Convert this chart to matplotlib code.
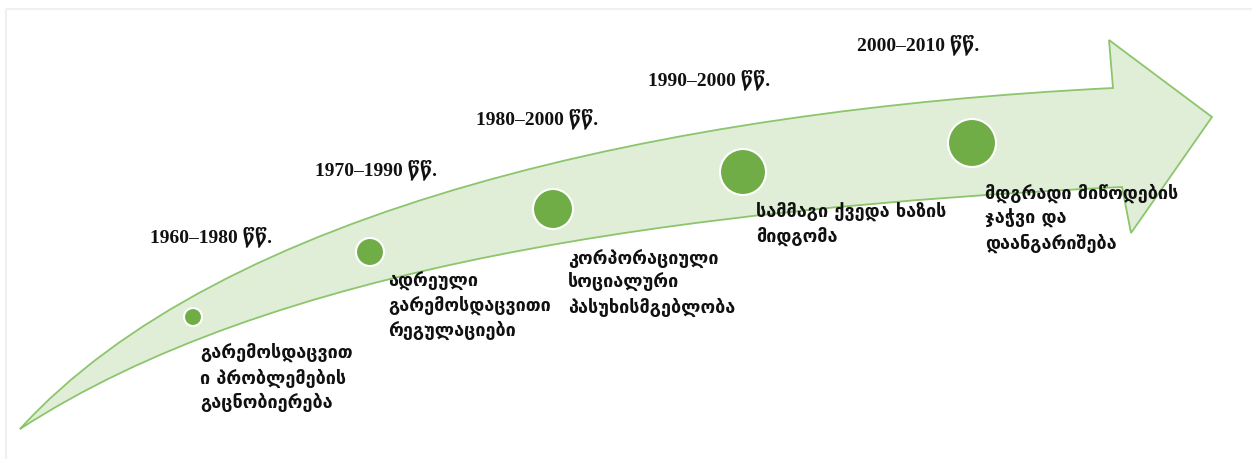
import matplotlib
matplotlib.use("Agg")
import matplotlib.pyplot as plt
from matplotlib.path import Path
from matplotlib.patches import PathPatch, Circle, Rectangle

# ---- data ----
periods = ["1960–1980 წწ.", "1970–1990 წწ.", "1980–2000 წწ.",
           "1990–2000 წწ.", "2000–2010 წწ."]
descriptions = [
    "გარემოსდაცვით\nი პრობლემების\nგაცნობიერება",
    "ადრეული\nგარემოსდაცვითი\nრეგულაციები",
    "კორპორაციული\nსოციალური\nპასუხისმგებლობა",
    "სამმაგი ქვედა ხაზის\nმიდგომა",
    "მდგრადი მიწოდების\nჯაჭვი და\nდაანგარიშება",
]

# ---- layout (pixel coordinates, y downward) ----
W, H = 1252, 460
circle_xy = [(193, 318), (370, 253), (553, 210), (743, 173), (972, 144)]
circle_r = [9, 14, 20, 23, 24]
period_xy = [(150, 237), (315, 170), (476, 119), (648, 80), (857, 45)]
desc_xy = [(200, 378), (388, 306), (568, 283), (756, 225), (985, 218)]

fig = plt.figure(figsize=(W / 100, H / 100), dpi=100)
ax = fig.add_axes([0, 0, 1, 1])
ax.set_xlim(0, W)
ax.set_ylim(H, 0)
ax.axis("off")

# faint frame
ax.add_patch(Rectangle((6, 10), W, H, fill=False, edgecolor="#F0F0F0", lw=1.5))

# curved arrow
verts = [
    (20, 430),
    (220, 210), (663, 111.5), (1113, 89),      # upper edge
    (1109, 41), (1212, 118), (1131, 234),        # arrow head
    (1122, 188),
    (670, 210.5), (270, 267.5), (20, 430),       # lower edge back to tail
    (20, 430),
]
codes = [Path.MOVETO,
         Path.CURVE4, Path.CURVE4, Path.CURVE4,
         Path.LINETO, Path.LINETO, Path.LINETO,
         Path.LINETO,
         Path.CURVE4, Path.CURVE4, Path.CURVE4,
         Path.CLOSEPOLY]
ax.add_patch(PathPatch(Path(verts, codes), facecolor="#E0EED8",
                       edgecolor="#8CC56C", lw=1.3, joinstyle="miter"))

for (x, y), r in zip(circle_xy, circle_r):
    ax.add_patch(Circle((x, y), r, facecolor="#70AD47", edgecolor="white", lw=1.5))

year_font = ["Liberation Serif", "DejaVu Serif", "DejaVu Sans"]
for (x, y), t in zip(period_xy, periods):
    ax.text(x, y, t, ha="left", va="center", fontsize=14, fontweight="bold",
            family=year_font, color="#111111")

for (x, y), t in zip(desc_xy, descriptions):
    ax.text(x, y, t, ha="left", va="center", fontsize=13, fontweight="bold",
            family=["DejaVu Sans"], linespacing=1.38, color="#111111")

fig.savefig("out.png", dpi=100)
